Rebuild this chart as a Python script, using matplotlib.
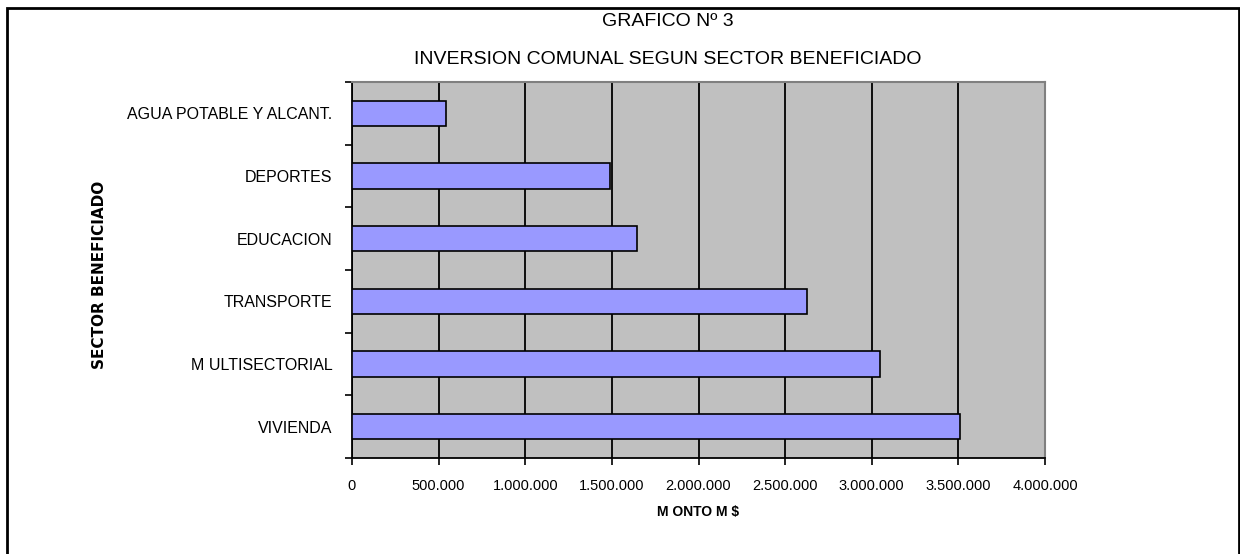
import matplotlib
matplotlib.use("Agg")
import matplotlib.pyplot as plt
from matplotlib.patches import Rectangle
from matplotlib.ticker import FuncFormatter, MultipleLocator

# data, listed bottom to top
sectors = ["VIVIENDA", "M ULTISECTORIAL", "TRANSPORTE", "EDUCACION",
           "DEPORTES", "AGUA POTABLE Y ALCANT."]
montos = [3512000, 3047000, 2628000, 1644000, 1488000, 540000]
x_ticks = [0, 500000, 1000000, 1500000, 2000000, 2500000, 3000000, 3500000, 4000000]

title_lines = ["GRAFICO Nº 3", "INVERSION COMUNAL SEGUN SECTOR BENEFICIADO"]

plt.rcParams['font.family'] = ['Liberation Sans', 'DejaVu Sans']

fig = plt.figure(figsize=(12.4, 5.54), dpi=100)
ax = fig.add_axes([352 / 1240, 1 - 458 / 554, (1045 - 352) / 1240, (458 - 82) / 554])
ax.set_facecolor("#C0C0C0")

pos = list(range(len(sectors)))
ax.barh(pos, montos, height=0.4, color="#9999FF", edgecolor="black",
        linewidth=1.2, zorder=3)

ax.set_xlim(0, 4000000)
ax.set_ylim(-0.5, len(sectors) - 0.5)
ax.set_xticks(x_ticks)
ax.xaxis.set_major_formatter(FuncFormatter(lambda v, p: f"{int(v):,}".replace(",", ".")))
ax.grid(axis="x", color="black", linewidth=1.3, zorder=1)
ax.set_axisbelow(True)

ax.set_yticks(pos)
ax.set_yticklabels(sectors, fontsize=11.5)
ax.yaxis.set_minor_locator(MultipleLocator(1, offset=0.5))
ax.tick_params(axis="y", which="major", length=0, pad=14)
ax.tick_params(axis="y", which="minor", length=5, width=1.2, direction="out")
ax.tick_params(axis="x", length=5, width=1.2, direction="out", pad=10, labelsize=10.5)

for s in ["top", "right"]:
    ax.spines[s].set_color("#808080")
    ax.spines[s].set_linewidth(1.5)
for s in ["left", "bottom"]:
    ax.spines[s].set_color("black")
    ax.spines[s].set_linewidth(1.3)

ax.set_xlabel("M ONTO M $", fontsize=10, fontweight="bold", labelpad=9)

fig.text(100 / 1240, 1 - 275 / 554, "SECTOR BENEFICIADO", rotation=90,
         ha="center", va="center", fontsize=11, fontweight="bold",
         family=["DejaVu Sans"])

fig.text(668 / 1240, 1 - 22 / 554, title_lines[0], ha="center", va="center",
         fontsize=14)
fig.text(668 / 1240, 1 - 59 / 554, title_lines[1], ha="center", va="center",
         fontsize=14)

frame = Rectangle((7 / 1240, -0.05), (1239 - 7) / 1240, 1.05 - 8 / 554,
                  transform=fig.transFigure, fill=False, edgecolor="black",
                  linewidth=2, clip_on=False)
fig.patches.append(frame)

fig.savefig("out.png", dpi=100)
